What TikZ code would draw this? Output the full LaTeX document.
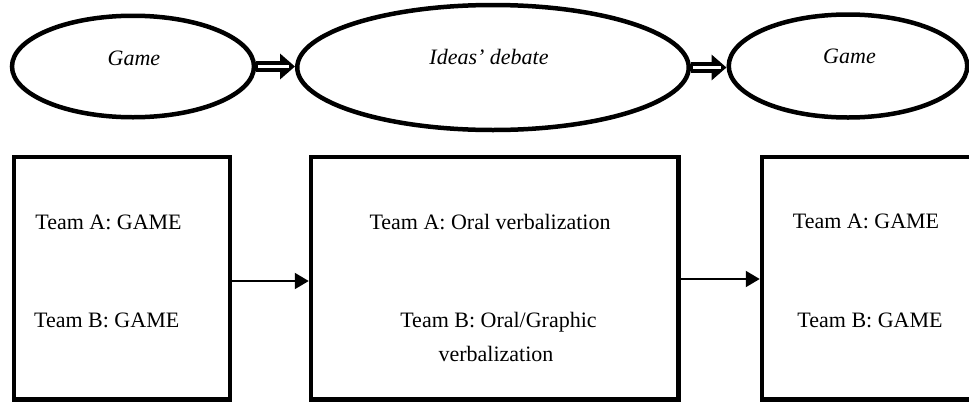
\documentclass[tikz,border=0pt]{standalone}
\usepackage{fontspec}
\setmainfont{Liberation Serif}
\usetikzlibrary{shapes.geometric,arrows.meta}
\tikzset{
  oval/.style={ellipse, draw, line width=4.5pt, inner sep=0pt},
  stagebox/.style={rectangle, draw, line width=4.5pt, inner sep=0pt},
  lbl/.style={anchor=base, inner sep=0pt, font=\fontsize{22}{26}\selectfont},
  ilbl/.style={lbl, font=\fontsize{22}{26}\selectfont\itshape},
  bigarrow/.style={line width=11pt, -{Triangle[length=15pt,width=25pt]}},
  bigarrowcore/.style={white, line width=2.2pt, shorten <=2pt, shorten >=6pt},
  thinarrow/.style={line width=2pt, -{Triangle[length=14pt,width=16pt]}}
}
\begin{document}
\begin{tikzpicture}[x=1pt,y=-1pt]
\useasboundingbox (0,0) rectangle (969,402);
\clip (0,0) rectangle (969,402);
% ellipses
\node[oval, minimum width=242pt, minimum height=101.5pt] (e1) at (133,66.5) {};
\node[oval, minimum width=391.5pt, minimum height=125pt] (e2) at (493,67.5) {};
\node[oval, minimum width=238.5pt, minimum height=103pt] (e3) at (848,66) {};
\node[ilbl] (g1) at (134,65) {Game};
\node[ilbl] (g2) at (489,64) {Ideas’ debate};
\node[ilbl] (g3) at (849.5,63.5) {Game};
% hollow double arrows
\draw[bigarrow] (e1.east) -- (e1.east -| e2.west);
\draw[bigarrowcore] (e1.east) -- (e1.east -| e2.west);
\draw[bigarrow] (e2.east) -- (e2.east -| e3.west);
\draw[bigarrowcore] (e2.east) -- (e2.east -| e3.west);
% boxes
\node[stagebox, minimum width=216pt, minimum height=242.5pt] (b1) at (122,278) {};
\node[stagebox, minimum width=367.5pt, minimum height=242.5pt] (b2) at (494.75,278) {};
\node[stagebox, minimum width=260pt, minimum height=242.5pt] (b3) at (892,278) {};
% box texts
\node[lbl] (t1a) at (108.5,229.3) {Team A: GAME};
\node[lbl] (t1b) at (106.7,327.3) {Team B: GAME};
\node[lbl] (t2a) at (490,229.3) {Team A: Oral verbalization};
\node[lbl] (t2b) at (498.5,327.3) {Team B: Oral/Graphic};
\node[lbl] (t2c) at (496,361.7) {verbalization};
\node[lbl] (t3a) at (866,228.3) {Team A: GAME};
\node[lbl] (t3b) at (870,327.3) {Team B: GAME};
% thin arrows
\draw[thinarrow] ([yshift=-3pt]b1.east) -- ([yshift=-3pt]b2.west);
\draw[thinarrow] ([yshift=-1pt]b2.east) -- ([yshift=-1pt]b3.west);
\end{tikzpicture}
\end{document}
